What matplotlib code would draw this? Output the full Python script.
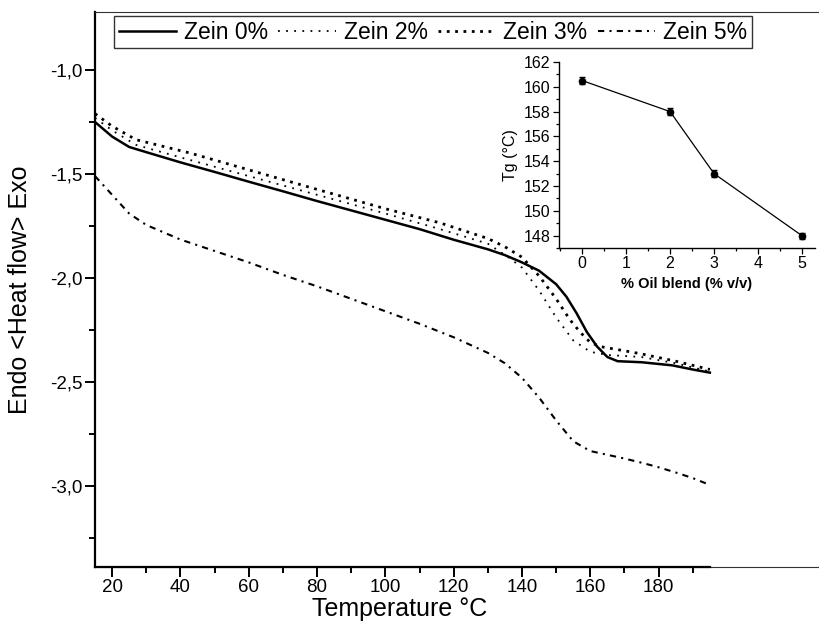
import numpy as np
import matplotlib
matplotlib.use("Agg")
import matplotlib.pyplot as plt
from matplotlib.ticker import FixedLocator, FuncFormatter

plt.rcParams['font.family'] = ['Liberation Sans', 'DejaVu Sans']

# -------------------------------------------------
# DATA
# -------------------------------------------------
temp_0 = [15, 20, 25, 30, 40, 50, 60, 70, 80, 90, 100, 110, 120, 130, 135, 140, 145,
          150, 153, 156, 159, 162, 165, 168, 175, 184, 190, 195]
zein_0 = [-1.25, -1.32, -1.37, -1.395, -1.444, -1.49, -1.537, -1.583, -1.63, -1.675,
          -1.72, -1.765, -1.816, -1.862, -1.89, -1.925, -1.965, -2.03, -2.09, -2.17,
          -2.26, -2.33, -2.38, -2.40, -2.405, -2.42, -2.44, -2.455]

temp_2 = [15, 20, 27, 40, 60, 80, 100, 116, 130, 136, 140, 145, 150, 155, 160, 165,
          175, 185, 195]
zein_2 = [-1.23, -1.29, -1.36, -1.42, -1.51, -1.60, -1.69, -1.765, -1.835, -1.9,
          -1.95, -2.06, -2.19, -2.30, -2.355, -2.37, -2.38, -2.41, -2.45]

temp_3 = [15, 20, 27, 43, 60, 80, 100, 116, 130, 135, 140, 145, 150, 154, 157, 160,
          163, 170, 175, 185, 195]
zein_3 = [-1.21, -1.27, -1.335, -1.40, -1.48, -1.574, -1.667, -1.735, -1.81, -1.85,
          -1.9, -1.99, -2.1, -2.2, -2.26, -2.31, -2.33, -2.35, -2.365, -2.40, -2.44]

temp_5 = [15, 20, 25, 30, 40, 50, 60, 70, 80, 90, 100, 110, 120, 130, 135, 140, 145,
          150, 155, 160, 165, 170, 175, 180, 185, 190, 195]
zein_5 = [-1.51, -1.60, -1.69, -1.745, -1.815, -1.87, -1.925, -1.985, -2.04, -2.10,
          -2.16, -2.22, -2.285, -2.36, -2.41, -2.48, -2.575, -2.685, -2.785, -2.832,
          -2.85, -2.868, -2.888, -2.91, -2.935, -2.962, -2.995]

oil_pct = [0, 2, 3, 5]
tg_vals = [160.5, 158.0, 153.0, 148.0]
tg_err = [0.3, 0.3, 0.3, 0.25]

labels = ["Zein 0%", "Zein 2%", "Zein 3%", "Zein 5%"]

# -------------------------------------------------
# FIGURE
# -------------------------------------------------
W, H = 820, 635
fig = plt.figure(figsize=(W / 100, H / 100), dpi=100)

def px_box(x0, y0, x1, y1):
    return [x0 / W, 1 - y1 / H, (x1 - x0) / W, (y1 - y0) / H]

ax = fig.add_axes(px_box(95, 12, 830, 567))
ax.set_xlim(15, 15 + (830 - 95) / 3.416)
ax.set_ylim(-1.0 - (567 - 70) / 208, -1.0 + (70 - 12) / 208)

ax.plot(temp_0, zein_0, color="black", lw=1.8, ls="-", label=labels[0])
ax.plot(temp_2, zein_2, color="black", lw=1.3, ls=(0, (1, 3.5)), label=labels[1])
ax.plot(temp_3, zein_3, color="black", lw=2.0, ls=(0, (1, 2)), label=labels[2])
ax.plot(temp_5, zein_5, color="black", lw=1.5, ls=(0, (3, 2.5, 1, 2.5)), label=labels[3])

# spines
ax.spines["right"].set_visible(False)
ax.spines["top"].set_linewidth(0.8)
ax.spines["top"].set_color("#333333")
ax.spines["left"].set_linewidth(1.6)
ax.spines["bottom"].set_linewidth(1.6)
ax.spines["bottom"].set_bounds(15, 195)
ax.plot([0, 1], [0, 0], transform=ax.transAxes, color="#333333", lw=0.8, clip_on=False)

# ticks
ax.xaxis.set_major_locator(FixedLocator(np.arange(20, 181, 20)))
ax.xaxis.set_minor_locator(FixedLocator(np.arange(30, 191, 20)))
ax.yaxis.set_major_locator(FixedLocator([-1.0, -1.5, -2.0, -2.5, -3.0]))
ax.yaxis.set_minor_locator(FixedLocator([-1.25, -1.75, -2.25, -2.75, -3.25]))
ax.yaxis.set_major_formatter(FuncFormatter(lambda v, p: f"{v:.1f}".replace(".", ",")))
ax.tick_params(which="major", direction="out", length=7, width=1.4, labelsize=13.5, pad=2)
ax.tick_params(which="minor", direction="out", length=4, width=1.4)
ax.tick_params(top=False, right=False)

ax.set_xlabel("Temperature °C", fontsize=18)
ax.xaxis.set_label_coords((400 - 95) / (830 - 95), -(597 - 567) / 555)
ax.set_ylabel("Endo <Heat flow> Exo", fontsize=18)
ax.yaxis.set_label_coords(-(95 - 32) / (830 - 95), 0.5)

leg = ax.legend(loc="upper left", bbox_to_anchor=(114 / W, 1 - 16 / H),
                bbox_transform=fig.transFigure, ncol=4, fontsize=16.5,
                frameon=True, fancybox=False, edgecolor="black", borderaxespad=0,
                handlelength=2.5, handletextpad=0.35, columnspacing=0.45,
                borderpad=0.2)
leg.get_frame().set_linewidth(1.0)

# -------------------------------------------------
# INSET
# -------------------------------------------------
ins = fig.add_axes(px_box(559, 62, 815, 248))
ins.errorbar(oil_pct, tg_vals, yerr=tg_err, color="black", lw=0.9, marker="o",
             ms=4.5, capsize=2, elinewidth=0.9)
ins.set_xlim(-0.53, 5.3)
ins.set_ylim(147.0, 162.0)
ins.spines["right"].set_visible(False)
ins.spines["top"].set_visible(False)
ins.spines["left"].set_linewidth(1.0)
ins.spines["bottom"].set_linewidth(1.0)
ins.xaxis.set_major_locator(FixedLocator([0, 1, 2, 3, 4, 5]))
ins.xaxis.set_minor_locator(FixedLocator([-0.5, 0.5, 1.5, 2.5, 3.5, 4.5]))
ins.yaxis.set_major_locator(FixedLocator(np.arange(148, 163, 2)))
ins.yaxis.set_minor_locator(FixedLocator(np.arange(147, 162, 2)))
ins.tick_params(which="major", direction="out", length=4, width=0.9, labelsize=11.5, pad=2)
ins.tick_params(which="minor", direction="out", length=2, width=0.9)
ins.set_xlabel("% Oil blend (% v/v)", fontsize=10.5, fontweight="bold", labelpad=4)
ins.set_ylabel("Tg (°C)", fontsize=11.5, labelpad=4)

fig.savefig("out.png", dpi=100)
